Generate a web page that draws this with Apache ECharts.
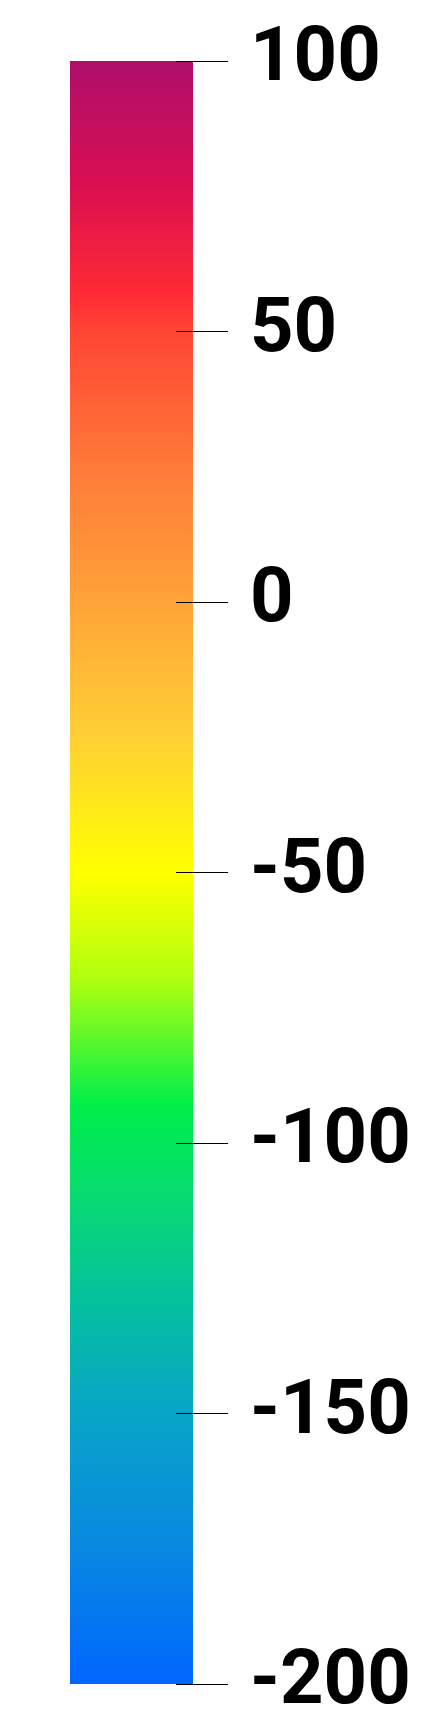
<!DOCTYPE html>
<html>
<head>
<meta charset="utf-8">
<script src="https://cdn.jsdelivr.net/npm/echarts@6/dist/echarts.min.js"></script>
<style>
  html, body { margin: 0; padding: 0; background: #fff; }
  #colorbar { width: 424px; height: 1722px; }
</style>
</head>
<body>
<div id="colorbar"></div>
<script>
// scale range and ticks
var scaleMin = -200
var scaleMax = 100
var tickStep = 50

// colour stops (value -> colour)
var stopValues = [100, 78, 57, 50, 25, 0, -25, -50, -70, -93, -110, -130, -150, -175, -200]
var stopColors = ['#AF0E6C', '#D80E52', '#FF2A35', '#FF4535', '#FF7A38', '#FFA338', '#FFD035',
	'#FFFF00', '#AEFF10', '#00EE4A', '#08DA72', '#05BFA0', '#08A4C8', '#0888E2', '#0066FF']

var myChart = echarts.init(document.getElementById('colorbar'))

var gradStops = []
for (var i = 0; i < stopValues.length; i++) {
	gradStops.push({
		offset: (scaleMax - stopValues[i]) / (scaleMax - scaleMin),
		color: stopColors[i]
	})
}

var option = {
	backgroundColor: '#fff',
	animation: false,
	grid: {
		left: 70,
		width: 123,
		top: 61,
		bottom: 34
	},
	xAxis: {
		type: 'category',
		data: ['bar'],
		show: false
	},
	yAxis: {
		type: 'value',
		position: 'right',
		offset: -17,
		z: 10,
		min: scaleMin,
		max: scaleMax,
		interval: tickStep,
		axisLine: { show: false },
		axisTick: {
			show: true,
			length: 52,
			lineStyle: { color: '#000', width: 1 }
		},
		splitLine: { show: false },
		axisLabel: {
			color: '#000',
			fontSize: 76,
			fontWeight: 'bold',
			fontFamily: 'Roboto',
			margin: 74,
			padding: [0, 0, 15, 0]
		}
	},
	series: [
		{
			type: 'custom',
			z: 1,
			encode: { x: 0, y: [1, 2] },
			data: [[0, scaleMin, scaleMax]],
			renderItem: function (params, api) {
				var lo = api.coord([api.value(0), api.value(1)])
				var hi = api.coord([api.value(0), api.value(2)])
				var w = api.size([1, 0])[0]
				return {
					type: 'rect',
					shape: { x: hi[0] - w / 2, y: hi[1], width: w, height: lo[1] - hi[1] },
					style: {
						fill: new echarts.graphic.LinearGradient(0, 0, 0, 1, gradStops)
					}
				}
			}
		}
	]
}

myChart.setOption(option, true)
</script>
</body>
</html>
